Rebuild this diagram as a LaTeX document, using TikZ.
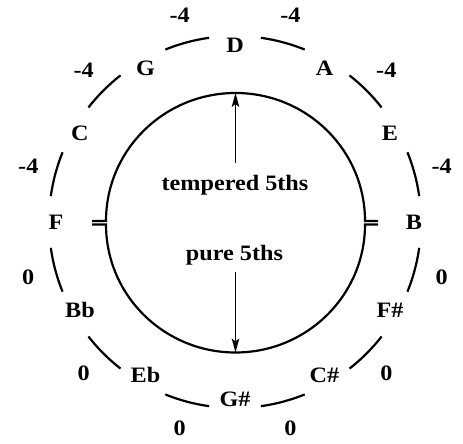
\documentclass[tikz,border=0pt]{standalone}
\usepackage{fontspec}
\usepackage{graphicx}
\setmainfont{Liberation Serif}
\usetikzlibrary{arrows.meta}
\newcommand\widetxt[1]{\scalebox{1.1}[1]{#1}}
\begin{document}
\begin{tikzpicture}[x=1pt,y=1pt,
  lbl/.style={font=\bfseries\fontsize{22}{26}\selectfont, inner sep=0pt, text height=14.5pt, text depth=0pt},
  txt/.style={font=\bfseries\fontsize{22}{26}\selectfont, inner sep=0pt, anchor=base},
  ring/.style={line width=2.2pt},
  arr/.style={line width=1.8pt,-{Stealth[length=14pt,width=7.5pt,inset=3pt]}}]
\useasboundingbox (0,0) rectangle (463,444);
\def\cx{235}\def\cy{222}
% note letters
\foreach \n/\t/\a in {D/D/90, A/A/60, E/E/30, B/B/0, Fs/F\#/-30, Cs/C\#/-60, Gs/G\#/-90, Eb/Eb/-120, Bb/Bb/-150, F/F/180, C/C/150, G/G/120}
  \node[lbl] (\n) at ({\cx+179*cos(\a)},{\cy+177*sin(\a)}) {\widetxt{\t}};
% outer arcs
\foreach \a in {0,30,...,330}
  \draw[ring] ({\cx+186*cos(\a+8)},{\cy+186*sin(\a+8)}) arc[start angle=\a+8, end angle=\a+22, radius=186];
% deviations
\foreach \n/\t/\a in {m1/-4/15, m2/-4/45, m3/-4/75, m4/-4/105, m5/-4/135, m6/-4/165, z1/0/195, z2/0/225, z3/0/255, z4/0/285, z5/0/315, z6/0/345}
  \node[lbl] (\n) at ({\cx+214*cos(\a)},{\cy+214*sin(\a)}) {\widetxt{\t}};
% inner broken circle
\draw[ring] (92,223) -- (106,223) arc[start angle=180, end angle=0, x radius=129.5, y radius=128] -- (378,223);
\draw[ring] (92,219.5) -- (106,219.5) arc[start angle=180, end angle=360, x radius=129.5, y radius=128] -- (378,219.5);
% texts
\node[txt] (temp) at (235,253) {\widetxt{tempered 5ths}};
\node[txt] (pure) at (234.5,183) {\widetxt{pure 5ths}};
\coordinate (tstart) at (235.5,281);
\coordinate (ttop) at (235.5,351);
\coordinate (pstart) at (235.5,172);
\coordinate (pbot) at (235.5,91.5);
\draw[arr] (tstart) -- (ttop);
\draw[arr] (pstart) -- (pbot);
\end{tikzpicture}
\end{document}
